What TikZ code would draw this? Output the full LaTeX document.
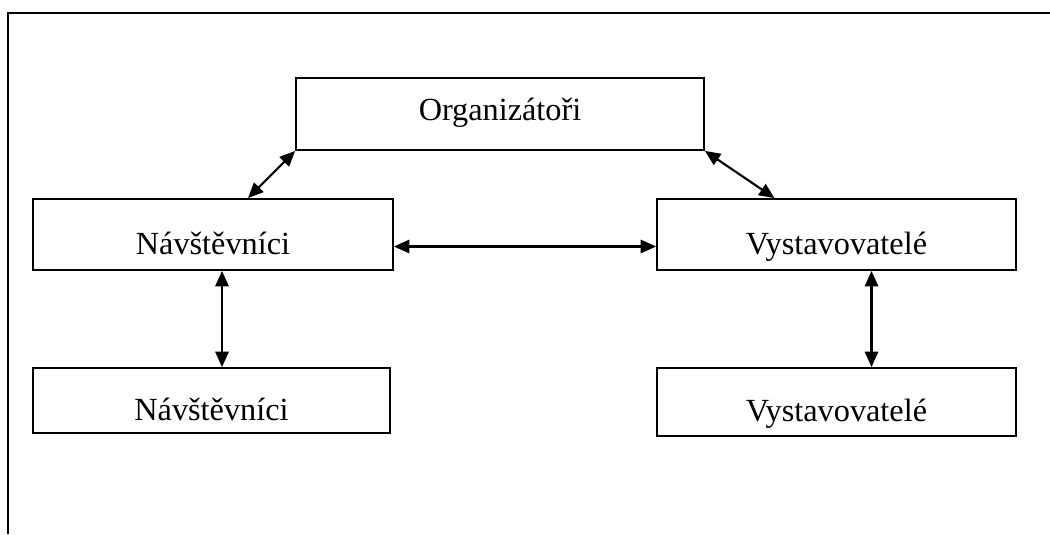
\documentclass[tikz,border=0pt]{standalone}
\usepackage{fontspec}
\setmainfont{Liberation Serif}
\usepackage{tikz}
\usetikzlibrary{arrows.meta}
\usetikzlibrary{calc}
\newcommand\pxl{0.378pt}
\tikzstyle{box}=[draw,line width=.7pt,inner sep=0pt,text height=7.6pt,text depth=3pt,font=\fontsize{12.2}{14}\selectfont]
\tikzstyle{lowtext}=[text height=18pt]
\tikzstyle{linkhead}=[>/.tip={Triangle[length=5.8pt,width=5pt]}]
\tikzstyle{link}=[line width=.8pt,linkhead,<->]
\tikzstyle{frame}=[line width=1.1pt]

\begin{document}
\begin{tikzpicture}[x=0.378pt,y=-0.378pt]
	\useasboundingbox (0,0) rectangle (1050,534);
	\draw[frame] (8,534) -- (8,13) -- (1050,13);
	\node[box,minimum width=408*\pxl,minimum height=72*\pxl] (org)   at (500,114)   {Organizátoři};
	\node[box,lowtext,minimum width=360*\pxl,minimum height=71*\pxl] (nav)   at (213,234.5) {Návštěvníci};
	\node[box,lowtext,minimum width=359*\pxl,minimum height=71*\pxl] (vyst)  at (836.5,234.5) {Vystavovatelé};
	\node[box,lowtext,minimum width=357*\pxl,minimum height=65*\pxl] (nav2)  at (211.5,400.5) {Návštěvníci};
	\node[box,lowtext,minimum width=359*\pxl,minimum height=68*\pxl] (vyst2) at (836.5,402) {Vystavovatelé};
	\draw[link] (org.south west) -- ($(nav.north)+(35,0)$);
	\draw[link] (org.south east) -- ($(vyst.north)+(-62,0)$);
	\draw[link] ([yshift=-12*\pxl]nav.east) -- ([yshift=-12*\pxl]vyst.west);
	\draw[link] ([xshift=9*\pxl]nav.south) -- ([xshift=9*\pxl]nav.south |- nav2.north);
	\draw[link] ([xshift=35*\pxl]vyst.south) -- ([xshift=35*\pxl]vyst.south |- vyst2.north);
\end{tikzpicture}
\end{document}
